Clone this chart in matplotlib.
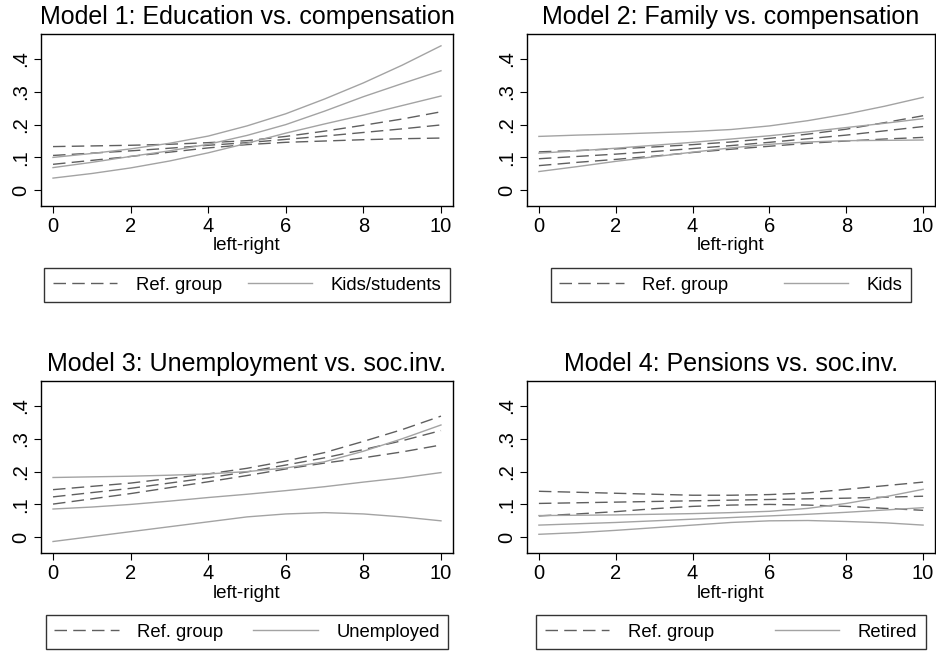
import matplotlib
matplotlib.use("Agg")
import matplotlib.pyplot as plt
from matplotlib.lines import Line2D

plt.rcParams['font.family'] = ['Liberation Sans', 'DejaVu Sans']

x = [0, 1, 2, 3, 4, 5, 6, 7, 8, 9, 10]

titles = ["Model 1: Education vs. compensation",
          "Model 2: Family vs. compensation",
          "Model 3: Unemployment vs. soc.inv.",
          "Model 4: Pensions vs. soc.inv."]
group_labels = ["Kids/students", "Kids", "Unemployed", "Retired"]
ref_label = "Ref. group"
xlabel = "left-right"
yticks = [0, 0.1, 0.2, 0.3, 0.4]
yticklabels = ["0", ".1", ".2", ".3", ".4"]
xticks = [0, 2, 4, 6, 8, 10]

# Model 1
ref1_up = [0.133, 0.135, 0.137, 0.140, 0.145, 0.151, 0.164, 0.180, 0.198, 0.217, 0.239]
ref1_mid = [0.106, 0.113, 0.120, 0.128, 0.137, 0.145, 0.155, 0.165, 0.176, 0.187, 0.199]
ref1_lo = [0.079, 0.091, 0.103, 0.116, 0.129, 0.139, 0.146, 0.150, 0.154, 0.157, 0.159]
grp1_up = [0.100, 0.112, 0.126, 0.143, 0.165, 0.196, 0.233, 0.278, 0.327, 0.381, 0.440]
grp1_mid = [0.069, 0.085, 0.103, 0.120, 0.140, 0.167, 0.200, 0.241, 0.285, 0.325, 0.364]
grp1_lo = [0.037, 0.051, 0.068, 0.089, 0.114, 0.143, 0.174, 0.202, 0.229, 0.258, 0.287]

# Model 2
ref2_up = [0.117, 0.121, 0.126, 0.132, 0.139, 0.147, 0.158, 0.171, 0.186, 0.206, 0.227]
ref2_mid = [0.096, 0.103, 0.110, 0.118, 0.127, 0.136, 0.146, 0.157, 0.168, 0.181, 0.194]
ref2_lo = [0.075, 0.085, 0.094, 0.104, 0.115, 0.125, 0.134, 0.143, 0.150, 0.156, 0.161]
grp2_up = [0.164, 0.168, 0.171, 0.175, 0.179, 0.185, 0.196, 0.212, 0.232, 0.256, 0.283]
grp2_mid = [0.113, 0.120, 0.128, 0.137, 0.146, 0.156, 0.166, 0.178, 0.191, 0.204, 0.218]
grp2_lo = [0.057, 0.072, 0.088, 0.102, 0.116, 0.129, 0.140, 0.147, 0.151, 0.152, 0.153]

# Model 3
ref3_up = [0.145, 0.155, 0.165, 0.179, 0.193, 0.210, 0.232, 0.258, 0.292, 0.328, 0.369]
ref3_mid = [0.123, 0.136, 0.149, 0.165, 0.181, 0.199, 0.220, 0.242, 0.267, 0.294, 0.325]
ref3_lo = [0.101, 0.117, 0.133, 0.151, 0.169, 0.188, 0.208, 0.226, 0.242, 0.260, 0.281]
grp3_up = [0.182, 0.184, 0.186, 0.189, 0.193, 0.200, 0.211, 0.230, 0.262, 0.300, 0.342]
grp3_mid = [0.086, 0.092, 0.100, 0.110, 0.121, 0.131, 0.142, 0.154, 0.168, 0.181, 0.197]
grp3_lo = [-0.013, 0.002, 0.017, 0.032, 0.047, 0.062, 0.071, 0.075, 0.071, 0.062, 0.050]

# Model 4
ref4_up = [0.140, 0.137, 0.134, 0.131, 0.128, 0.128, 0.130, 0.135, 0.146, 0.157, 0.168]
ref4_mid = [0.103, 0.105, 0.107, 0.109, 0.111, 0.113, 0.115, 0.117, 0.119, 0.122, 0.125]
ref4_lo = [0.065, 0.071, 0.078, 0.087, 0.094, 0.098, 0.100, 0.098, 0.094, 0.088, 0.082]
grp4_up = [0.066, 0.067, 0.068, 0.070, 0.072, 0.075, 0.079, 0.088, 0.103, 0.123, 0.146]
grp4_mid = [0.037, 0.041, 0.045, 0.050, 0.055, 0.060, 0.065, 0.070, 0.076, 0.083, 0.090]
grp4_lo = [0.009, 0.014, 0.021, 0.029, 0.037, 0.045, 0.050, 0.051, 0.048, 0.044, 0.037]

panels = [
    (ref1_up, ref1_mid, ref1_lo, grp1_up, grp1_mid, grp1_lo),
    (ref2_up, ref2_mid, ref2_lo, grp2_up, grp2_mid, grp2_lo),
    (ref3_up, ref3_mid, ref3_lo, grp3_up, grp3_mid, grp3_lo),
    (ref4_up, ref4_mid, ref4_lo, grp4_up, grp4_mid, grp4_lo),
]

W, H = 936, 651
fig = plt.figure(figsize=(W / 100, H / 100), dpi=100)

# axes rectangles in pixels: (left, top, right, bottom)
rects = [(41, 34, 453, 206), (527, 34, 935, 206),
         (41, 381, 453, 553), (527, 381, 935, 553)]
colspacings = [1.4, 3.0, 1.6, 3.3]

ref_color = "#5f5f5f"
grp_color = "#a3a3a3"
dash = (0, (9, 4.5))

for i, (r, data) in enumerate(zip(rects, panels)):
    l, t, rr, b = r
    ax = fig.add_axes([l / W, 1 - b / H, (rr - l) / W, (b - t) / H])
    ru, rm, rl, gu, gm, gl = data
    for s in (ru, rm, rl):
        ax.plot(x, s, color=ref_color, lw=1.0, linestyle=dash)
    for s in (gu, gm, gl):
        ax.plot(x, s, color=grp_color, lw=1.0)
    ax.set_xlim(-0.31, 10.31)
    ax.set_ylim(-0.048, 0.476)
    ax.set_xticks(xticks)
    ax.set_xticklabels([str(v) for v in xticks], fontsize=14.5)
    ax.set_yticks(yticks)
    ax.set_yticklabels(yticklabels, fontsize=14.5, rotation=90, va='center')
    ax.tick_params(direction='out', length=5, width=0.8, color='black', pad=3)
    for sp in ax.spines.values():
        sp.set_linewidth(1.0)
        sp.set_color('black')
    ax.set_xlabel(xlabel, fontsize=13.5, labelpad=1)
    ax.set_title(titles[i], fontsize=18, pad=7)
    handles = [Line2D([], [], color=ref_color, lw=1.0, linestyle=dash),
               Line2D([], [], color=grp_color, lw=1.0)]
    leg = ax.legend(handles, [ref_label, group_labels[i]], loc='center',
                    bbox_to_anchor=(0.5, -0.46), ncol=2, fontsize=13.3,
                    frameon=True, fancybox=False, edgecolor='black',
                    handlelength=3.5, handletextpad=1.0,
                    columnspacing=colspacings[i], borderpad=0.45,
                    borderaxespad=0)
    leg.get_frame().set_linewidth(1.0)

fig.savefig("out.png", dpi=100, facecolor='white')
